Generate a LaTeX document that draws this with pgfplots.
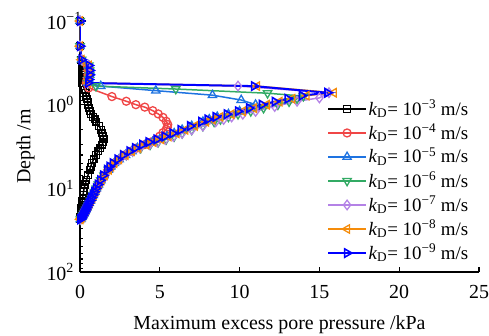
\documentclass[border=0pt]{standalone}
\usepackage{fontspec}
\setmainfont{Liberation Serif}
\usepackage{pgfplots}
\pgfplotsset{compat=1.18}
\definecolor{cRed}{RGB}{240,70,70}
\definecolor{cLBlue}{RGB}{30,115,225}
\definecolor{cGreen}{RGB}{50,170,100}
\definecolor{cPurple}{RGB}{180,130,230}
\definecolor{cOrange}{RGB}{245,140,10}
\definecolor{cBlue}{RGB}{0,0,255}
\pgfplotstableread{
p d
0 0.1
0 0.2
0.05 0.29
0.1 0.34
0.12 0.39
0.12 0.44
0.12 0.5
0.12 0.55
0.2 0.6
0.3 0.66
0.35 0.72
0.4 0.78
0.45 0.85
0.48 0.92
0.5 1.0
0.55 1.1
0.6 1.2
0.7 1.3
0.8 1.4
0.92 1.5
1.02 1.6
1.2 1.8
1.32 2.0
1.4 2.2
1.45 2.4
1.47 2.6
1.45 2.8
1.4 3.0
1.28 3.3
1.15 3.6
1.0 4.0
0.85 4.5
0.75 5.0
0.67 5.5
0.6 6
0.5 7
0.4 8
0.32 9
0.26 10
0.22 11
0.19 12
0.16 13
0.14 14
0.12 15
0.1 16
0.09 17
0.08 18
0.07 19
0.05 20
0.04 21
0.03 22
0.02 23
0 23.5
}\tA
\pgfplotstableread{
p d
0 0.1
0 0.2
0.1 0.29
0.45 0.34
0.5 0.39
0.5 0.44
0.45 0.5
0.4 0.55
0.55 0.63
2.0 0.8
2.9 0.91
3.5 1.0
4.06 1.07
4.56 1.18
4.9 1.29
5.2 1.42
5.4 1.58
5.5 1.73
5.48 1.85
5.4 1.98
5.2 2.16
5.0 2.38
4.75 2.6
4.45 2.8
4.05 3.0
3.55 3.3
3.2 3.6
2.8 4.0
2.45 4.5
2.15 5.0
1.95 5.5
1.8 6
1.55 7
1.35 8
1.2 9
1.07 10
0.96 11
0.86 12
0.77 13
0.68 14
0.6 15
0.52 16
0.45 17
0.38 18
0.31 19
0.25 20
0.19 21
0.13 22
0.07 23
0.02 23.5
}\tB
\pgfplotstableread{
p d
0 0.1
0 0.2
0.1 0.29
0.55 0.34
0.6 0.39
0.6 0.44
0.55 0.5
0.5 0.55
1.3 0.6
4.75 0.68
8.3 0.77
10.1 0.88
11.0 1.0
10.7 1.1
10.0 1.2
9.3 1.3
8.6 1.4
8.1 1.5
7.7 1.6
7.0 1.8
6.4 2.0
5.9 2.2
5.45 2.4
5.0 2.6
4.55 2.8
4.1 3.0
3.6 3.3
3.25 3.6
2.85 4.0
2.45 4.5
2.15 5.0
1.92 5.5
1.77 6
1.5 7
1.3 8
1.15 9
1.03 10
0.92 11
0.82 12
0.73 13
0.65 14
0.57 15
0.5 16
0.43 17
0.36 18
0.3 19
0.24 20
0.18 21
0.12 22
0.06 23
0.02 23.5
}\tC
\pgfplotstableread{
p d
0 0.1
0 0.2
0.1 0.29
0.55 0.34
0.6 0.39
0.6 0.44
0.55 0.5
0.5 0.55
1.0 0.6
6.0 0.65
11.75 0.73
14.0 0.79
13.6 0.85
13.1 0.92
12.4 1.0
11.5 1.1
10.7 1.2
9.9 1.3
9.3 1.4
8.8 1.5
8.4 1.6
7.7 1.8
7.0 2.0
6.4 2.2
5.9 2.4
5.4 2.6
4.9 2.8
4.4 3.0
3.8 3.3
3.3 3.6
2.9 4.0
2.5 4.5
2.2 5.0
1.95 5.5
1.78 6
1.5 7
1.3 8
1.15 9
1.03 10
0.92 11
0.82 12
0.73 13
0.65 14
0.57 15
0.5 16
0.43 17
0.36 18
0.3 19
0.24 20
0.18 21
0.12 22
0.06 23
0.02 23.5
}\tD
\pgfplotstableread{
p d
0 0.1
0 0.2
0.1 0.29
0.55 0.34
0.6 0.39
0.6 0.44
0.55 0.5
0.5 0.55
9.9 0.6
15.6 0.72
15.0 0.83
13.6 0.91
12.2 1.05
11.0 1.2
10.2 1.3
9.5 1.4
9.0 1.5
8.5 1.6
7.7 1.8
7.0 2.0
6.4 2.2
5.85 2.4
5.35 2.6
4.85 2.8
4.35 3.0
3.75 3.3
3.3 3.6
2.9 4.0
2.5 4.5
2.2 5.0
1.95 5.5
1.78 6
1.5 7
1.3 8
1.15 9
1.03 10
0.92 11
0.82 12
0.73 13
0.65 14
0.57 15
0.5 16
0.43 17
0.36 18
0.3 19
0.24 20
0.18 21
0.12 22
0.06 23
0.02 23.5
}\tE
\pgfplotstableread{
p d
0 0.1
0 0.2
0.1 0.29
0.55 0.34
0.6 0.39
0.6 0.44
0.55 0.5
0.5 0.55
11.1 0.6
15.9 0.72
14.2 0.78
13.3 0.85
12.5 0.92
11.7 1.0
10.9 1.1
10.2 1.2
9.5 1.3
8.8 1.4
8.3 1.5
7.9 1.6
7.2 1.8
6.6 2.0
6.05 2.2
5.55 2.4
5.1 2.6
4.6 2.8
4.15 3.0
3.65 3.3
3.25 3.6
2.85 4.0
2.45 4.5
2.15 5.0
1.95 5.5
1.8 6
1.55 7
1.35 8
1.2 9
1.07 10
0.96 11
0.86 12
0.77 13
0.68 14
0.6 15
0.52 16
0.45 17
0.38 18
0.31 19
0.25 20
0.19 21
0.13 22
0.07 23
0.02 23.5
}\tF
\pgfplotstableread{
p d
0 0.1
0 0.2
0.1 0.29
0.55 0.34
0.6 0.39
0.6 0.44
0.55 0.5
0.5 0.55
10.9 0.6
15.5 0.72
13.9 0.78
13.0 0.85
12.2 0.92
11.4 1.0
10.6 1.1
9.9 1.2
9.2 1.3
8.5 1.4
8.0 1.5
7.6 1.6
6.9 1.8
6.3 2.0
5.8 2.2
5.3 2.4
4.8 2.6
4.3 2.8
3.9 3.0
3.45 3.3
3.1 3.6
2.7 4.0
2.35 4.5
2.05 5.0
1.85 5.5
1.7 6
1.45 7
1.27 8
1.12 9
1.0 10
0.9 11
0.8 12
0.71 13
0.63 14
0.55 15
0.48 16
0.41 17
0.35 18
0.29 19
0.23 20
0.17 21
0.11 22
0.06 23
0.02 23.5
}\tG
\begin{document}
\fontsize{19}{22}\selectfont
\begin{tikzpicture}
\begin{axis}[
  name=ax,
  width=399bp, height=251bp, scale only axis,
  xmin=0, xmax=25, ymode=log, ymin=0.1, ymax=100, y dir=reverse,
  axis x line*=bottom, axis y line*=left,
  axis line style={line width=1.3pt},
  tick align=inside, tick style={line width=1.1pt, black},
  major tick length=5.5bp, minor tick length=3.5bp,
  xtick={0,5,10,15,20,25},
  xticklabels={0,5,10,15,20,25},
  ytick={0.1,1,10,100},
  yticklabels={10\textsuperscript{−1},10\textsuperscript{0},10\textsuperscript{1},10\textsuperscript{2}},
  xlabel={Maximum excess pore pressure /kPa},
  ylabel={Depth /m},
  every tick label/.append style={font=\fontsize{20}{23}\selectfont},
  xticklabel style={yshift=-7bp},
  yticklabel style={anchor=west, xshift=-40bp},
  label style={font=\fontsize{20}{23}\selectfont},
  xlabel style={yshift=-4bp},
  ylabel style={yshift=-1bp},
  legend cell align=left,
  legend style={draw=none, fill=none, font=\fontsize{19}{22}\selectfont,
    at={(0.985,0.70)}, anchor=north east, row sep=3.2bp,
    nodes={inner sep=1.5bp}},
  legend image code/.code={\draw[mark repeat=2,mark phase=2] plot coordinates {(0cm,0cm) (0.67cm,0cm) (1.34cm,0cm)};},
  every axis plot/.append style={line width=1.5pt},
]
\addplot[color=black, mark=square, mark size=3.4bp, mark options={fill=white, solid, line width=1.3pt}] table[x=p,y=d] {\tA};
\addlegendentry{\textit{k}\textsubscript{D}= 10\textsuperscript{−3} m/s}
\addplot[color=cRed, mark=o, mark size=4bp, mark options={fill=white, solid, line width=1.3pt}] table[x=p,y=d] {\tB};
\addlegendentry{\textit{k}\textsubscript{D}= 10\textsuperscript{−4} m/s}
\addplot[color=cLBlue, mark=triangle, mark size=4.8bp, mark options={fill=white, solid, line width=1.3pt}] table[x=p,y=d] {\tC};
\addlegendentry{\textit{k}\textsubscript{D}= 10\textsuperscript{−5} m/s}
\addplot[color=cGreen, mark=triangle, mark size=4.8bp, mark options={fill=white, solid, rotate=180, line width=1.3pt}] table[x=p,y=d] {\tD};
\addlegendentry{\textit{k}\textsubscript{D}= 10\textsuperscript{−6} m/s}
\addplot[color=cPurple, mark=diamond, mark size=4.8bp, mark options={fill=white, solid, line width=1.3pt}] table[x=p,y=d] {\tE};
\addlegendentry{\textit{k}\textsubscript{D}= 10\textsuperscript{−7} m/s}
\addplot[color=cOrange, mark=triangle, mark size=4.8bp, mark options={fill=white, solid, rotate=90, line width=1.3pt}] table[x=p,y=d] {\tF};
\addlegendentry{\textit{k}\textsubscript{D}= 10\textsuperscript{−8} m/s}
\addplot[color=cBlue, line width=2pt, mark=triangle, mark size=4.8bp, mark options={fill=white, solid, rotate=-90, line width=1.6pt}] table[x=p,y=d] {\tG};
\addlegendentry{\textit{k}\textsubscript{D}= 10\textsuperscript{−9} m/s}
\end{axis}
\pgfresetboundingbox
\path[use as bounding box] ([xshift=-80bp,yshift=-64bp]ax.south west) rectangle ([xshift=10bp,yshift=21bp]ax.north east);
\end{tikzpicture}
\end{document}
